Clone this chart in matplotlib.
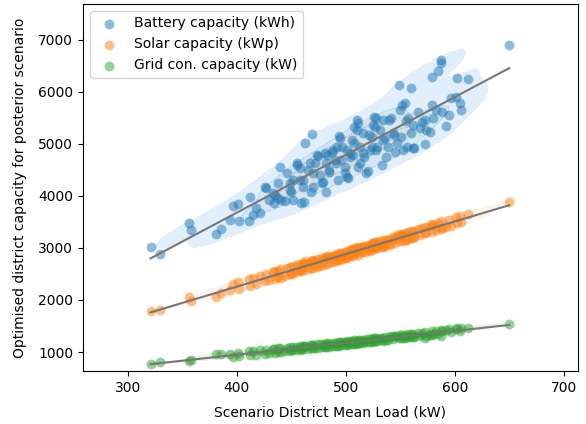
import numpy as np
import matplotlib
matplotlib.use("Agg")
import matplotlib.pyplot as plt
import seaborn as sns

mean_load = [321, 330, 356, 358, 381, 386, 394, 397, 401, 402, 411, 412, 415, 418, 421, 426, 427, 430, 433, 435,
             434, 438, 438, 440, 441, 444, 446, 449, 449, 450, 452, 452, 455, 455, 458, 458, 459, 461, 461, 462,
             463, 465, 467, 468, 469, 470, 470, 472, 474, 475, 476, 478, 479, 481, 482, 482, 483, 485, 485, 487,
             488, 490, 491, 492, 493, 494, 495, 496, 497, 499, 499, 501, 501, 502, 504, 504, 506, 507, 508, 508,
             510, 510, 511, 511, 513, 513, 516, 516, 517, 519, 520, 521, 522, 524, 524, 525, 526, 527, 529, 533,
             534, 536, 539, 542, 543, 545, 549, 550, 551, 554, 556, 557, 560, 560, 563, 566, 568, 573, 573, 577,
             579, 579, 583, 585, 587, 587, 592, 595, 597, 601, 602, 605, 606, 612, 650, 528, 540, 552, 555, 570,
             580, 588, 574, 562, 562, 553, 547, 534, 531, 544, 537, 528]

battery = [3025, 2879, 3487, 3346, 3269, 3360, 3538, 3814, 3846, 3525, 3525, 3987, 3635, 3763, 3667, 4179, 4150, 3923, 4064, 4020,
           3860, 4244, 3955, 4552, 3923, 3900, 4436, 4244, 4115, 4083, 3923, 4308, 4629, 4600, 4308, 4532, 3859, 4179, 4308, 3891,
           5013, 4500, 4629, 4083, 5186, 4179, 4436, 4629, 4789, 4760, 4404, 4244, 4276, 4821, 4083, 4629, 4789, 4500, 4468, 4853,
           4880, 4692, 4629, 4949, 4308, 5154, 5120, 4692, 4949, 4564, 4436, 4372, 4885, 4340, 4756, 4821, 5077, 4789, 5334, 5013,
           5462, 5270, 4564, 5398, 4949, 4629, 5206, 4821, 4756, 4436, 4470, 5173, 4885, 5141, 4949, 5366, 5526, 5334, 4949, 4596,
           5462, 5109, 4949, 5494, 5206, 4853, 6135, 5654, 5141, 5783, 4949, 5494, 6083, 5206, 4917, 5622, 5302, 5462, 5000, 5237,
           5750, 6295, 5654, 6410, 6615, 6551, 5346, 5558, 5879, 5910, 6263, 5783, 5654, 6250, 6904, 5500, 5462, 5740, 5450, 5420,
           5494, 5622, 5270, 5366, 4917, 4885, 5013, 5077, 5270, 5180, 4756, 4885]

solar = [1790, 1800, 2060, 1990, 2060, 2140, 2190, 2300, 2350, 2210, 2400, 2270, 2420, 2310, 2460, 2360, 2500, 2390, 2530, 2410,
         2550, 2440, 2560, 2590, 2430, 2470, 2620, 2500, 2640, 2490, 2660, 2520, 2680, 2540, 2570, 2690, 2550, 2720, 2580, 2700,
         2740, 2590, 2730, 2610, 2760, 2620, 2740, 2770, 2640, 2790, 2660, 2800, 2670, 2820, 2690, 2800, 2840, 2710, 2820, 2850,
         2730, 2870, 2750, 2890, 2760, 2900, 2770, 2910, 2790, 2920, 2800, 2810, 2940, 2850, 2960, 2840, 2980, 2850, 2990, 2880,
         3010, 2950, 2870, 3000, 3020, 2900, 3040, 2920, 3020, 2920, 3060, 3040, 2940, 3090, 2960, 3100, 2990, 3110, 2990, 3020,
         3150, 3040, 3180, 3080, 3210, 3090, 3260, 3130, 3240, 3290, 3160, 3300, 3330, 3200, 3210, 3360, 3250, 3400, 3280, 3430,
         3310, 3460, 3340, 3480, 3510, 3370, 3400, 3540, 3430, 3600, 3480, 3620, 3500, 3650, 3890, 3120, 3060, 3270, 3150, 3380,
         3440, 3380, 3290, 3330, 3200, 3140, 3230, 3020, 3130, 3190, 3160, 2990]

grid = [770, 815, 835, 845, 970, 965, 970, 910, 990, 920, 1010, 945, 1020, 950, 1030, 965, 1045, 975, 1060, 990,
        1055, 995, 1070, 1075, 1000, 1020, 1085, 1025, 1095, 1030, 1100, 1035, 1105, 1040, 1110, 1050, 1045, 1120, 1055, 1115,
        1125, 1060, 1130, 1070, 1135, 1075, 1135, 1080, 1145, 1085, 1150, 1090, 1155, 1095, 1165, 1100, 1160, 1105, 1170, 1110,
        1175, 1115, 1180, 1120, 1185, 1125, 1190, 1130, 1195, 1135, 1200, 1140, 1205, 1145, 1210, 1150, 1215, 1155, 1225, 1160,
        1220, 1160, 1225, 1165, 1235, 1170, 1180, 1240, 1185, 1245, 1190, 1250, 1195, 1255, 1200, 1260, 1205, 1265, 1210, 1275,
        1225, 1285, 1235, 1300, 1245, 1310, 1260, 1320, 1270, 1330, 1280, 1340, 1290, 1350, 1295, 1365, 1305, 1380, 1270, 1330,
        1395, 1335, 1405, 1350, 1415, 1300, 1420, 1435, 1380, 1445, 1455, 1400, 1465, 1470, 1530, 1205, 1290, 1320, 1275, 1370,
        1340, 1410, 1315, 1350, 1290, 1265, 1310, 1220, 1270, 1300, 1235, 1260]

series_labels = ["Battery capacity (kWh)", "Solar capacity (kWp)", "Grid con. capacity (kW)"]
x_ticks = [300, 400, 500, 600, 700]
y_ticks = [1000, 2000, 3000, 4000, 5000, 6000, 7000]

fig = plt.figure(figsize=(5.86, 4.24), dpi=100)
ax = fig.add_axes([0.1416, 0.125, 0.8446, 0.8656])

x = np.array(mean_load, dtype=float)
colors = ["#1f77b4", "#ff7f0e", "#2ca02c"]
kde_alpha = [0.2, 0.12, 0.12]
kde_thresh = [0.07, 0.05, 0.05]
for ys, c, lab, ka, kt in zip([battery, solar, grid], colors, series_labels, kde_alpha, kde_thresh):
    y = np.array(ys, dtype=float)
    sns.kdeplot(x=x, y=y, fill=True, levels=4, thresh=kt, color=c, alpha=ka,
                bw_adjust=0.85, ax=ax)
    ax.scatter(x, y, s=50, color=c, alpha=0.5, linewidths=0, label=lab, zorder=3)
    coef = np.polyfit(x, y, 1)
    xl = np.array([x.min(), x.max()])
    ax.plot(xl, np.polyval(coef, xl), color="#777777", lw=1.5, zorder=4)

ax.set_xlim(259, 713)
ax.set_ylim(635, 7690)
ax.set_xticks(x_ticks)
ax.set_yticks(y_ticks)
ax.set_xlabel("Scenario District Mean Load (kW)", labelpad=8)
ax.set_ylabel("Optimised district capacity for posterior scenario", labelpad=8)
ax.legend(loc="upper left")
fig.savefig("out.png", dpi=100)
